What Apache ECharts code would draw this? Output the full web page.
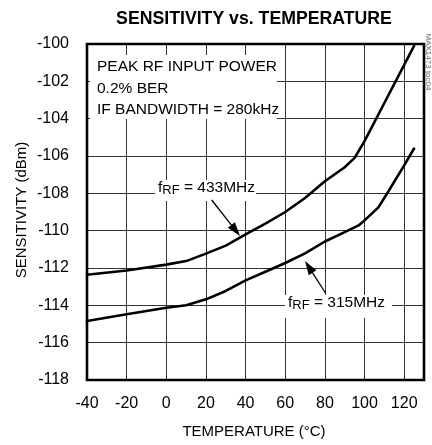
<!DOCTYPE html>
<html>
<head>
<meta charset="utf-8">
<script src="https://cdn.jsdelivr.net/npm/echarts@6/dist/echarts.min.js"></script>
<style>
html,body{margin:0;padding:0;background:#fff;}
#c{width:432px;height:445px;}
</style>
</head>
<body>
<div id="c"></div>
<script>
// ---- data ----
const temp433 = [-40, -20, 0, 10, 20, 30, 40, 50, 60, 70, 80, 90, 95, 100, 105, 110, 120, 125];
const sens433 = [-112.36, -112.13, -111.82, -111.63, -111.23, -110.8, -110.2, -109.62, -109.0, -108.25, -107.35, -106.6, -106.1, -105.2, -104.18, -103.16, -101.12, -100.1];
const temp315 = [-40, -20, 0, 10, 20, 30, 40, 50, 60, 70, 80, 90, 97, 100, 107, 112, 120, 125];
const sens315 = [-114.84, -114.48, -114.13, -114.0, -113.68, -113.23, -112.66, -112.2, -111.73, -111.22, -110.58, -110.08, -109.72, -109.45, -108.75, -107.9, -106.5, -105.6];
const xTicks = [-40, -20, 0, 20, 40, 60, 80, 100, 120];
const yTicks = [-118, -116, -114, -112, -110, -108, -106, -104, -102, -100];
const titleText = 'SENSITIVITY vs. TEMPERATURE';
const xTitle = 'TEMPERATURE (°C)';
const yTitle = 'SENSITIVITY (dBm)';
const noteLines = ['PEAK RF INPUT POWER', '0.2% BER', 'IF BANDWIDTH = 280kHz'];
const label433 = '433MHz';
const label315 = '315MHz';
const watermark = 'MAX1473 toc04';

// ---- layout ----
const FONT = "'Liberation Sans', Arial, sans-serif";
const G = {left: 87, top: 44, width: 337, height: 336};

function pairs(xs, ys) { return xs.map((x, i) => [x, ys[i]]); }

function arrow(x1, y1, x2, y2) {
  const dx = x2 - x1, dy = y2 - y1, L = Math.hypot(dx, dy);
  const ux = dx / L, uy = dy / L, len = 14, hw = 4.5;
  const bx = x2 - ux * len, by = y2 - uy * len;
  return [
    {type: 'line', z: 120, shape: {x1: x1, y1: y1, x2: bx + ux * 2, y2: by + uy * 2}, style: {stroke: '#000', lineWidth: 1.3}},
    {type: 'polygon', z: 120, shape: {points: [[x2, y2], [bx - uy * hw, by + ux * hw], [bx + uy * hw, by - ux * hw]]}, style: {fill: '#000'}}
  ];
}

function fLabel(x, y, val) {
  return {
    type: 'text', z: 115, left: x, top: y,
    style: {
      text: '{a|f}{s|RF}{a| = ' + val + '}',
      rich: {
        a: {fontFamily: FONT, fontSize: 15.5, lineHeight: 17, verticalAlign: 'top', fill: '#000'},
        s: {fontFamily: FONT, fontSize: 13, lineHeight: 13, verticalAlign: 'bottom', fill: '#000'}
      },
      fill: '#000'
    }
  };
}

const chart = echarts.init(document.getElementById('c'), null, {renderer: 'canvas'});

const graphics = [
  // title
  {type: 'text', z: 110, x: 254, y: 19, style: {text: titleText, fontFamily: FONT, fontWeight: 'bold', fontSize: 17.7, fill: '#000', align: 'center', verticalAlign: 'middle'}},
  // note box
  {type: 'rect', z: 105, shape: {x: 90, y: 55, width: 187, height: 64}, style: {fill: '#fff'}},
  {type: 'text', z: 110, x: 97, y: 67, style: {text: noteLines[0], fontFamily: FONT, fontSize: 15.5, fill: '#000', verticalAlign: 'middle'}},
  {type: 'text', z: 110, x: 97, y: 89, style: {text: noteLines[1], fontFamily: FONT, fontSize: 15.5, fill: '#000', verticalAlign: 'middle'}},
  {type: 'text', z: 110, x: 97, y: 110, style: {text: noteLines[2], fontFamily: FONT, fontSize: 15.5, fill: '#000', verticalAlign: 'middle'}},
  // 433 label
  {type: 'rect', z: 105, shape: {x: 155, y: 180, width: 101, height: 21}, style: {fill: '#fff'}},
  fLabel(158, 180, label433),
  // 315 label
  {type: 'rect', z: 105, shape: {x: 285, y: 295, width: 107, height: 23}, style: {fill: '#fff'}},
  fLabel(288, 295, label315),
  ...arrow(211.7, 200, 240, 236),
  ...arrow(325.5, 293, 305, 261),
  // frame
  {type: 'rect', z: 130, shape: {x: G.left, y: G.top, width: G.width, height: G.height}, style: {fill: null, stroke: '#000', lineWidth: 2.6}},
  // watermark
  {type: 'text', z: 110, x: 428, y: 62, rotation: -Math.PI / 2, style: {text: watermark, fontFamily: FONT, fontSize: 8, fill: '#666', align: 'center', verticalAlign: 'middle'}},
  // y title
  {type: 'text', z: 110, x: 22, y: 210, rotation: Math.PI / 2, style: {text: yTitle, fontFamily: FONT, fontSize: 15, fill: '#000', align: 'center', verticalAlign: 'middle'}},
  // x title
  {type: 'text', z: 110, x: 254, y: 432, style: {text: xTitle, fontFamily: FONT, fontSize: 15, fill: '#000', align: 'center', verticalAlign: 'middle'}}
];

chart.setOption({
  animation: false,
  backgroundColor: '#fff',
  grid: {left: G.left, top: G.top, width: G.width, height: G.height, show: false},
  xAxis: {
    type: 'value', min: -40, max: 130, interval: 20,
    axisLine: {show: false}, axisTick: {show: false},
    splitLine: {show: true, lineStyle: {color: '#333', width: 1}},
    axisLabel: {
      margin: 16, fontFamily: FONT, fontSize: 16, color: '#000',
      formatter: v => (xTicks.indexOf(v) >= 0 ? String(v) : '')
    }
  },
  yAxis: {
    type: 'value', min: -118, max: -100, interval: 2,
    axisLine: {show: false}, axisTick: {show: false},
    splitLine: {show: true, lineStyle: {color: '#333', width: 1}},
    axisLabel: {
      margin: 18, fontFamily: FONT, fontSize: 16, color: '#000',
      formatter: v => (yTicks.indexOf(v) >= 0 ? String(v) : '')
    }
  },
  series: [
    {type: 'line', name: '433MHz', data: pairs(temp433, sens433), showSymbol: false, smooth: false,
     lineStyle: {color: '#000', width: 2.6, join: 'round', cap: 'round'}, z: 5},
    {type: 'line', name: '315MHz', data: pairs(temp315, sens315), showSymbol: false, smooth: false,
     lineStyle: {color: '#000', width: 2.6, join: 'round', cap: 'round'}, z: 5}
  ],
  graphic: graphics
});
</script>
</body>
</html>
